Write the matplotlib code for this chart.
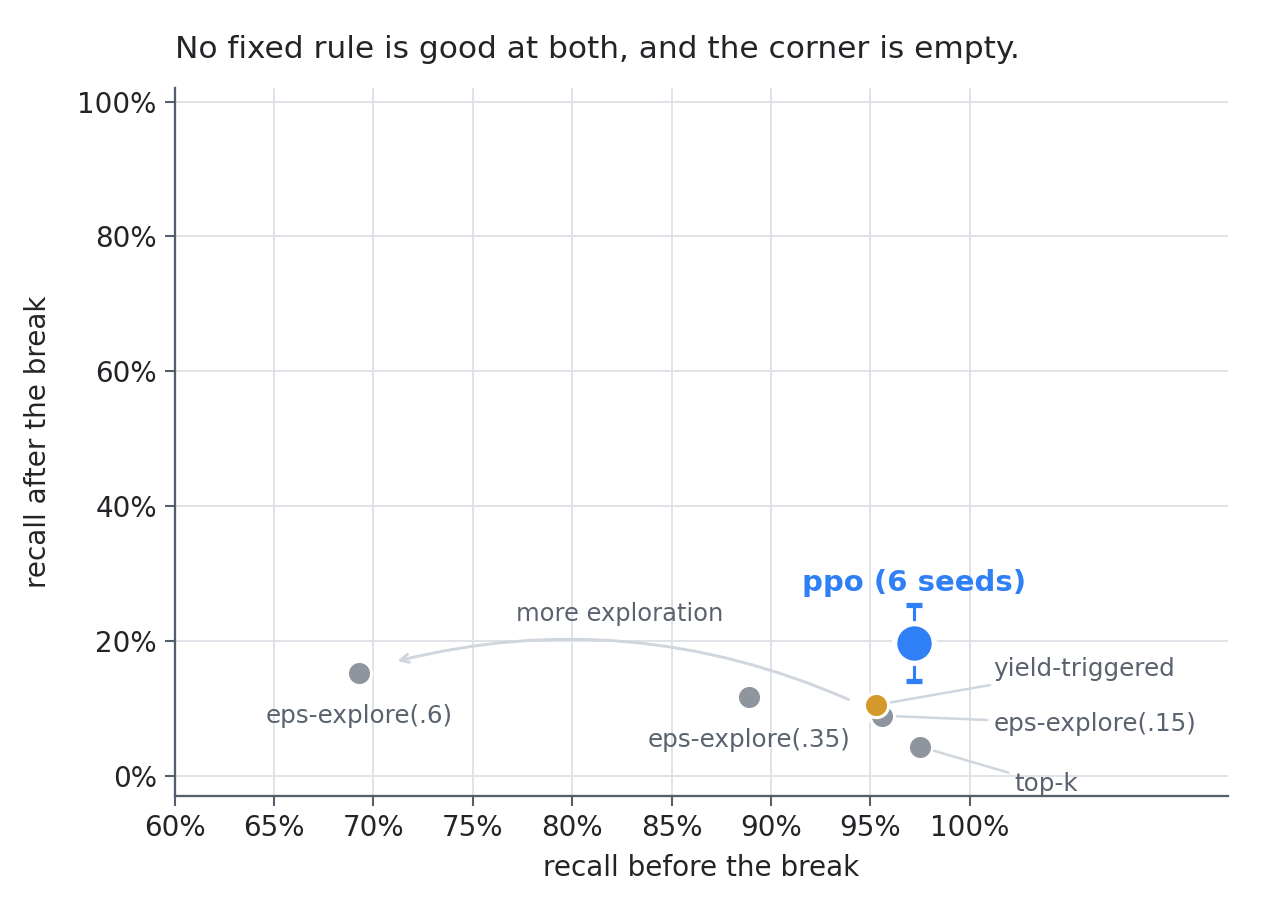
import matplotlib
matplotlib.use("Agg")
import matplotlib.pyplot as plt
from matplotlib.ticker import PercentFormatter


# fixed rules: recall before / after the break
rule_names = ["eps-explore(.6)", "eps-explore(.35)", "eps-explore(.15)", "top-k", "yield-triggered"]
rule_before = [0.693, 0.889, 0.956, 0.975, 0.953]
rule_after = [0.153, 0.117, 0.089, 0.043, 0.105]

# learned policy (mean over seeds, with spread)
ppo_before = 0.972
ppo_after = 0.197
ppo_err = 0.056

x_ticks = [0.60, 0.65, 0.70, 0.75, 0.80, 0.85, 0.90, 0.95, 1.00]
y_ticks = [0.0, 0.2, 0.4, 0.6, 0.8, 1.0]

GRAY = "#8e959f"
GOLD = "#d4992a"
BLUE = "#2f80f6"
LABEL = "#59626e"
LEADER = "#cfd6de"
SPINE = "#555e6b"
GRID = "#dde1e6"
INK = "#222428"

plt.rcParams["font.family"] = ["DejaVu Sans"]

fig = plt.figure(figsize=(1265 / 150, 918 / 150), dpi=150)
ax = fig.add_axes([0.138, 0.133, 0.833, 0.771])

ax.set_xlim(0.60, 1.13)
ax.set_ylim(-0.03, 1.02)
ax.set_xticks(x_ticks)
ax.set_yticks(y_ticks)
ax.xaxis.set_major_formatter(PercentFormatter(1.0, decimals=0))
ax.yaxis.set_major_formatter(PercentFormatter(1.0, decimals=0))
ax.grid(True, color=GRID, linewidth=0.9, zorder=0)
ax.set_axisbelow(True)

for side in ["top", "right"]:
    ax.spines[side].set_visible(False)
for side in ["left", "bottom"]:
    ax.spines[side].set_color(SPINE)
    ax.spines[side].set_linewidth(1.1)
ax.tick_params(axis="both", colors=SPINE, labelcolor=INK, labelsize=13.3, length=5, width=1)

# gray rules first, yield-triggered on top
for name, xb, ya in zip(rule_names, rule_before, rule_after):
    color = GOLD if name == "yield-triggered" else GRAY
    z = 4 if name == "yield-triggered" else 3
    ax.scatter(xb, ya, s=135, color=color, edgecolor="white", linewidth=1.5, zorder=z)

# labels under the two far points
ax.text(rule_before[0], 0.089, rule_names[0], ha="center", va="center", fontsize=11.8, color=LABEL)
ax.text(rule_before[1], 0.053, rule_names[1], ha="center", va="center", fontsize=11.8, color=LABEL)

# labels to the right with leader lines
leader = dict(arrowstyle="-", color=LEADER, linewidth=1.2, shrinkA=1, shrinkB=7)
ax.annotate(rule_names[4], xy=(rule_before[4], rule_after[4]), xytext=(1.012, 0.159),
            ha="left", va="center", fontsize=11.8, color=LABEL, arrowprops=leader)
ax.annotate(rule_names[2], xy=(rule_before[2], rule_after[2]), xytext=(1.012, 0.076),
            ha="left", va="center", fontsize=11.8, color=LABEL, arrowprops=leader)
ax.annotate(rule_names[3], xy=(rule_before[3], rule_after[3]), xytext=(1.0225, -0.012),
            ha="left", va="center", fontsize=11.8, color=LABEL, arrowprops=leader)

# ppo with seed spread
ax.errorbar(ppo_before, ppo_after, yerr=ppo_err, fmt="o", color=BLUE, markersize=19,
            markeredgecolor="white", markeredgewidth=2.5, elinewidth=1.5, capsize=4,
            capthick=1.5, zorder=5)
ax.text(ppo_before, 0.286, "ppo (6 seeds)", ha="center", va="center", fontsize=14,
        fontweight="bold", color=BLUE)

# direction of more exploration
ax.annotate("", xy=(0.712, 0.170), xytext=(0.939, 0.113),
            arrowprops=dict(arrowstyle="->", color=LEADER, linewidth=1.4,
                            connectionstyle="arc3,rad=0.17", shrinkA=0, shrinkB=0))
ax.text(0.824, 0.240, "more exploration", ha="center", va="center", fontsize=11.6, color=LABEL)

ax.set_xlabel("recall before the break", fontsize=13.4, color=INK, labelpad=6)
ax.set_ylabel("recall after the break", fontsize=13.4, color=INK, labelpad=12)
ax.set_title("No fixed rule is good at both, and the corner is empty.", loc="left",
             fontsize=15, color=INK, pad=14.5)

fig.savefig("out.png", dpi=150)
